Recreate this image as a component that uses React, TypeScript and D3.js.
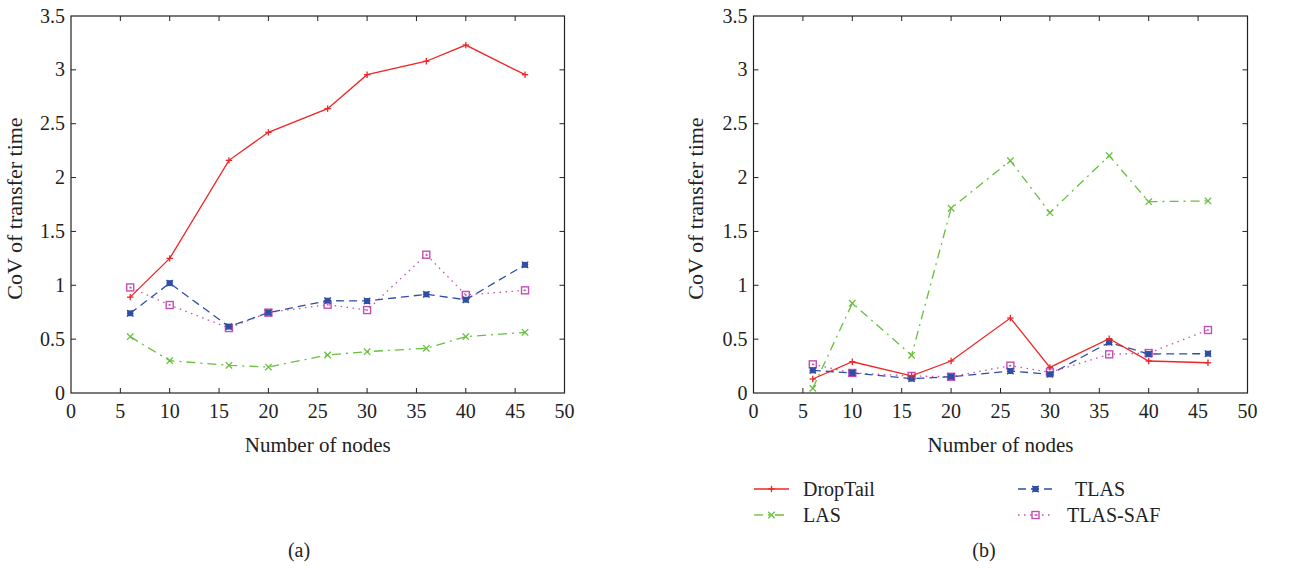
import React from "react";
import * as d3 from "d3";

const nodes = [6, 10, 16, 20, 26, 30, 36, 40, 46];
const xTicks = [0, 5, 10, 15, 20, 25, 30, 35, 40, 45, 50];
const yTicks = [0, 0.5, 1, 1.5, 2, 2.5, 3, 3.5];

// Panel (a)
const aDropTail = [0.89, 1.25, 2.16, 2.42, 2.64, 2.955, 3.08, 3.23, 2.955];
const aLAS = [0.523, 0.30, 0.257, 0.241, 0.353, 0.384, 0.415, 0.523, 0.563];
const aTLAS = [0.74, 1.02, 0.616, 0.746, 0.857, 0.854, 0.916, 0.866, 1.19];
const aTLASSAF = [0.98, 0.817, 0.603, 0.746, 0.82, 0.77, 1.284, 0.91, 0.953];

// Panel (b)
const bDropTail = [0.13, 0.29, 0.16, 0.297, 0.696, 0.238, 0.504, 0.297, 0.281];
const bLAS = [0.043, 0.833, 0.35, 1.715, 2.157, 1.674, 2.203, 1.776, 1.783];
const bTLAS = [0.21, 0.186, 0.133, 0.151, 0.204, 0.173, 0.47, 0.362, 0.365];
const bTLASSAF = [0.266, 0.186, 0.158, 0.151, 0.254, 0.192, 0.359, 0.371, 0.585];

const seriesNames = ["DropTail", "LAS", "TLAS", "TLAS-SAF"];

const COLORS: Record<string, string> = {
  DropTail: "#f02424",
  LAS: "#68bf3e",
  TLAS: "#2f4fa3",
  "TLAS-SAF": "#c24fb4",
};
const DASH: Record<string, string> = {
  DropTail: "",
  LAS: "9,5,2,5",
  TLAS: "8,5",
  "TLAS-SAF": "1.5,4.5",
};

const FONT = "'Liberation Serif', 'DejaVu Serif', serif";

function Marker({ name, x, y }: { name: string; x: number; y: number }) {
  const c = COLORS[name];
  const s = 3.2;
  if (name === "DropTail") {
    return (
      <g stroke={c} strokeWidth={1.3}>
        <line x1={x - s} y1={y} x2={x + s} y2={y} />
        <line x1={x} y1={y - s} x2={x} y2={y + s} />
      </g>
    );
  }
  if (name === "LAS") {
    return (
      <g stroke={c} strokeWidth={1.3}>
        <line x1={x - s} y1={y - s} x2={x + s} y2={y + s} />
        <line x1={x - s} y1={y + s} x2={x + s} y2={y - s} />
      </g>
    );
  }
  if (name === "TLAS") {
    return (
      <g stroke={c} strokeWidth={1.3} fill={c}>
        <line x1={x - s} y1={y - s} x2={x + s} y2={y + s} />
        <line x1={x - s} y1={y + s} x2={x + s} y2={y - s} />
        <line x1={x - s} y1={y} x2={x + s} y2={y} />
        <rect x={x - 2.3} y={y - 2.3} width={4.6} height={4.6} />
      </g>
    );
  }
  return (
    <g>
      <rect x={x - 3.5} y={y - 3.5} width={7} height={7} fill="none" stroke={c} strokeWidth={1.4} />
      <rect x={x - 0.8} y={y - 0.8} width={1.6} height={1.6} fill={c} />
    </g>
  );
}

function Panel({
  left,
  right,
  top,
  bottom,
  data,
  labelX,
}: {
  left: number;
  right: number;
  top: number;
  bottom: number;
  data: Record<string, number[]>;
  labelX: number;
}) {
  const x = d3.scaleLinear().domain([0, 50]).range([left, right]);
  const y = d3.scaleLinear().domain([0, 3.5]).range([bottom, top]);
  const line = d3
    .line<number>()
    .x((_, i) => x(nodes[i]))
    .y((d) => y(d));
  const tl = 5;
  const order = ["TLAS-SAF", "TLAS", "LAS", "DropTail"];
  return (
    <g>
      {xTicks.slice(1, -1).map((t) => (
        <g key={"xt" + t} stroke="#222" strokeWidth={1}>
          <line x1={x(t)} x2={x(t)} y1={bottom} y2={bottom - tl} />
          <line x1={x(t)} x2={x(t)} y1={top} y2={top + tl} />
        </g>
      ))}
      {yTicks.slice(1, -1).map((t) => (
        <g key={"yt" + t} stroke="#222" strokeWidth={1}>
          <line x1={left} x2={left + tl} y1={y(t)} y2={y(t)} />
          <line x1={right} x2={right - tl} y1={y(t)} y2={y(t)} />
        </g>
      ))}
      {xTicks.map((t) => (
        <text
          key={"xl" + t}
          x={x(t)}
          y={bottom + 25}
          textAnchor="middle"
          fontFamily={FONT}
          fontSize={20}
          fill="#222"
        >
          {t}
        </text>
      ))}
      {yTicks.map((t) => (
        <text
          key={"yl" + t}
          x={left - 6}
          y={y(t) + 6.5}
          textAnchor="end"
          fontFamily={FONT}
          fontSize={20}
          fill="#222"
        >
          {t}
        </text>
      ))}
      <text
        x={(left + right) / 2}
        y={bottom + 59}
        textAnchor="middle"
        fontFamily={FONT}
        fontSize={21}
        fill="#222"
      >
        Number of nodes
      </text>
      <text
        transform={`translate(${labelX},${(top + bottom) / 2 + 4}) rotate(-90)`}
        textAnchor="middle"
        fontFamily={FONT}
        fontSize={22}
        fill="#222"
      >
        CoV of transfer time
      </text>
      {order.map((name) => (
        <g key={name}>
          <path
            d={line(data[name]) || ""}
            fill="none"
            stroke={COLORS[name]}
            strokeWidth={1.3}
            strokeDasharray={DASH[name]}
          />
          {data[name].map((v, i) => (
            <Marker key={i} name={name} x={x(nodes[i])} y={y(v)} />
          ))}
        </g>
      ))}
      <rect
        x={left}
        y={top}
        width={right - left}
        height={bottom - top}
        fill="none"
        stroke="#222"
        strokeWidth={1.2}
      />
    </g>
  );
}

function LegendItem({ name, x, y, tx }: { name: string; x: number; y: number; tx: number }) {
  const c = COLORS[name];
  return (
    <g>
      <line x1={x} x2={x + 35} y1={y} y2={y} stroke={c} strokeWidth={1.3} strokeDasharray={DASH[name]} />
      <Marker name={name} x={x + 17.5} y={y} />
      <text x={tx} y={y + 6.5} fontFamily={FONT} fontSize={20} fill="#222">
        {name}
      </text>
    </g>
  );
}

export default function App() {
  const dataA: Record<string, number[]> = {
    DropTail: aDropTail,
    LAS: aLAS,
    TLAS: aTLAS,
    "TLAS-SAF": aTLASSAF,
  };
  const dataB: Record<string, number[]> = {
    DropTail: bDropTail,
    LAS: bLAS,
    TLAS: bTLAS,
    "TLAS-SAF": bTLASSAF,
  };
  return (
    <svg
      width={1305}
      height={570}
      style={{ position: "absolute", left: 0, top: 0, background: "#fff" }}
    >
      <rect x={0} y={0} width={1305} height={570} fill="#fff" />
      <Panel left={71} right={564.5} top={16} bottom={393} data={dataA} labelX={22} />
      <Panel left={753.5} right={1247.5} top={16} bottom={393} data={dataB} labelX={703} />
      <LegendItem name={seriesNames[0]} x={754} y={489} tx={803} />
      <LegendItem name={seriesNames[1]} x={754} y={515} tx={803} />
      <LegendItem name={seriesNames[2]} x={1018} y={489} tx={1075} />
      <LegendItem name={seriesNames[3]} x={1018} y={515} tx={1067} />
      <text x={299} y={557} textAnchor="middle" fontFamily={FONT} fontSize={20} fill="#222">
        (a)
      </text>
      <text x={984} y={557} textAnchor="middle" fontFamily={FONT} fontSize={20} fill="#222">
        (b)
      </text>
    </svg>
  );
}
